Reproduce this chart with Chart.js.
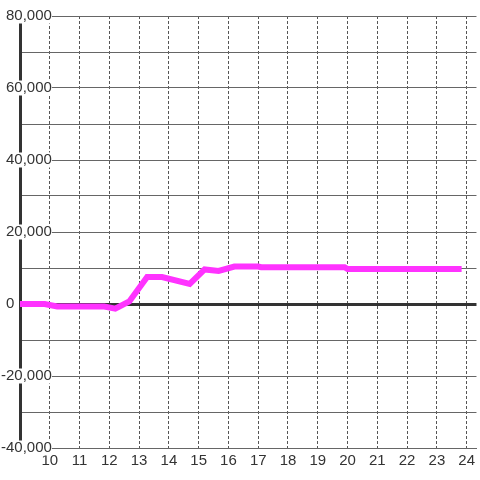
<!DOCTYPE html>
<html>
<head>
<meta charset="utf-8">
<script src="https://cdn.jsdelivr.net/npm/chart.js@4/dist/chart.umd.min.js"></script>
<style>
    html, body { margin: 0; padding: 0; background: #fff; }
</style>
</head>
<body>
<canvas id="grafico" width="480" height="480"></canvas>
<script>
// hora del día y valor
const horas = [9, 9.83, 10.25, 11.83, 12.2, 12.67, 13.27, 13.77, 14.7, 15.2, 15.67, 16.2, 17.0, 17.1, 19.9, 20.0, 23.83];
const valores = [0, 0, -700, -700, -1300, 700, 7500, 7500, 5600, 9600, 9200, 10400, 10400, 10200, 10200, 9700, 9700];

// marcas del eje x
const marcasX = [10, 11, 12, 13, 14, 15, 16, 17, 18, 19, 20, 21, 22, 23, 24];

const ejeX = { min: 9, max: 24.33 };
const ejeY = { min: -40000, max: 80000, paso: 10000, pasoEtiqueta: 20000 };

const fuente = { family: "'Liberation Sans', Arial, sans-serif", size: 15, lineHeight: 1 };

function etiquetaY(v) {
    if (v % ejeY.pasoEtiqueta !== 0) return "";
    // el cero va pegado al eje, no alineado con los demás
    if (v === 0) return "0" + " ".repeat(9);
    return v.toLocaleString("en-US");
}

const ctx = document.getElementById("grafico").getContext("2d");

new Chart(ctx, {
    type: "line",
    data: {
        datasets: [{
            data: horas.map((h, i) => ({ x: h, y: valores[i] })),
            borderColor: "#ff33ff",
            borderWidth: 6,
            pointRadius: 0,
            tension: 0,
            fill: false
        }]
    },
    options: {
        responsive: false,
        animation: false,
        layout: { padding: { top: 16, right: 0, bottom: 0, left: 0 } },
        plugins: {
            legend: { display: false },
            tooltip: { enabled: false }
        },
        scales: {
            x: {
                type: "linear",
                min: ejeX.min,
                max: ejeX.max,
                afterBuildTicks: (escala) => {
                    escala.ticks = marcasX.map(v => ({ value: v }));
                },
                afterFit: (escala) => { escala.height = 32; },
                ticks: {
                    autoSkip: false,
                    maxRotation: 0,
                    padding: 5,
                    color: "#333",
                    font: fuente,
                    callback: (v) => String(v)
                },
                grid: { color: "#555", lineWidth: 1, drawTicks: false },
                border: { color: "#666", width: 1, dash: [3, 2] }
            },
            y: {
                min: ejeY.min,
                max: ejeY.max,
                afterFit: (escala) => { escala.width = 20; },
                ticks: {
                    stepSize: ejeY.paso,
                    mirror: true,
                    crossAlign: "far",
                    padding: -19,
                    color: "#333",
                    font: fuente,
                    showLabelBackdrop: true,
                    backdropColor: (c) => c.tick && c.tick.value === 0 ? "rgba(0,0,0,0)" : "#fff",
                    backdropPadding: 0,
                    callback: etiquetaY
                },
                grid: {
                    color: (c) => c.tick && c.tick.value === 0 ? "#333" : "#666",
                    lineWidth: (c) => c.tick && c.tick.value === 0 ? 3 : 1,
                    drawTicks: false
                },
                border: { color: "#333", width: 3 }
            }
        }
    }
});
</script>
</body>
</html>
